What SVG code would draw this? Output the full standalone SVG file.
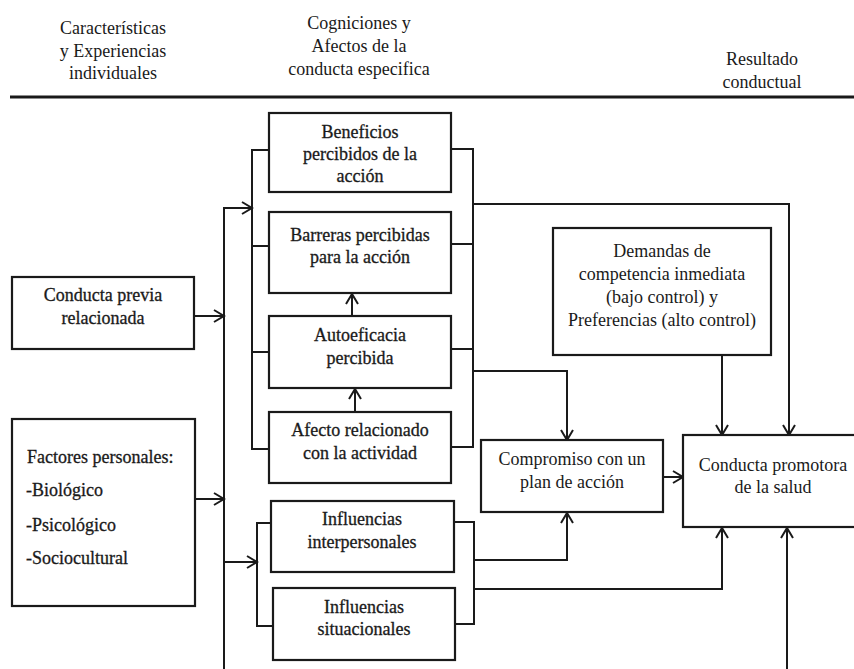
<svg xmlns="http://www.w3.org/2000/svg" width="854" height="669" viewBox="0 0 854 669">
<defs>
<style>
text{font-family:"Liberation Serif","Times New Roman",Times,serif;font-size:18px;fill:#1a1a1a;text-anchor:middle}
.b{stroke:#1a1a1a;stroke-width:0.3}
.l{text-anchor:start}
.box{fill:#fff;stroke:#1a1a1a;stroke-width:2.2}
.c{fill:none;stroke:#1a1a1a;stroke-width:2}
.a{marker-end:url(#arr)}
</style>
<marker id="arr" markerUnits="userSpaceOnUse" markerWidth="14" markerHeight="16" viewBox="0 0 14 16" refX="12" refY="8" orient="auto">
<path d="M2,2 L12,8 L2,14" fill="none" stroke="#1a1a1a" stroke-width="2"/>
</marker>
</defs>
<rect width="854" height="669" fill="#fff"/>

<g id="header">
<text x="113" y="34">Características</text>
<text x="113" y="57">y Experiencias</text>
<text x="113" y="79">individuales</text>
<text x="359" y="29">Cogniciones y</text>
<text x="359" y="52">Afectos de la</text>
<text x="359" y="75">conducta especifica</text>
<text x="762" y="65">Resultado</text>
<text x="762" y="88">conductual</text>
<line x1="10" y1="97" x2="854" y2="97" stroke="#1a1a1a" stroke-width="3"/>
</g>

<g id="connectors">
<polyline class="c a" points="224,669 224,208 252,208"/>
<line class="c a" x1="194" y1="316" x2="224" y2="316" stroke-width="3"/>
<line class="c a" x1="195" y1="499" x2="224" y2="499"/>
<line class="c a" x1="224" y1="562" x2="257" y2="562"/>
<polyline class="c" points="269,150 252,150 252,449 269,449"/>
<line class="c" x1="252" y1="246" x2="269" y2="246"/>
<line class="c" x1="252" y1="352" x2="269" y2="352"/>
<polyline class="c" points="451,149 473,149 473,447 451,447"/>
<line class="c" x1="451" y1="244" x2="473" y2="244"/>
<line class="c" x1="451" y1="349" x2="473" y2="349"/>
<polyline class="c a" points="473,204 789,204 789,435"/>
<polyline class="c a" points="473,371 567,371 567,440"/>
<line class="c a" x1="722" y1="356" x2="722" y2="435"/>
<line class="c a" x1="663" y1="477" x2="683" y2="477"/>
<line class="c a" x1="352" y1="316" x2="352" y2="294"/>
<line class="c a" x1="355" y1="412" x2="355" y2="389"/>
<polyline class="c" points="271,523 257,523 257,626 273,626"/>
<polyline class="c" points="454,522 474,522 474,624 455,624"/>
<polyline class="c a" points="474,560 567,560 567,513"/>
<polyline class="c a" points="474,589 722,589 722,528" stroke-width="3"/>
<line class="c a" x1="787" y1="669" x2="787" y2="528"/>
</g>

<g id="beneficios">
<rect class="box" x="269" y="113" width="182" height="79"/>
<text class="b" x="360" y="138">Beneficios</text>
<text class="b" x="360" y="160">percibidos de la</text>
<text class="b" x="360" y="182">acción</text>
</g>
<g id="barreras">
<rect class="box" x="269" y="212" width="182" height="81"/>
<text class="b" x="360" y="241">Barreras percibidas</text>
<text class="b" x="360" y="263">para la acción</text>
</g>
<g id="autoeficacia">
<rect class="box" x="269" y="316" width="182" height="72"/>
<text class="b" x="360" y="341">Autoeficacia</text>
<text class="b" x="360" y="364">percibida</text>
</g>
<g id="afecto">
<rect class="box" x="269" y="412" width="182" height="71"/>
<text class="b" x="360" y="436">Afecto relacionado</text>
<text class="b" x="360" y="459">con la actividad</text>
</g>
<g id="interpersonales">
<rect class="box" x="271" y="501" width="183" height="71"/>
<text class="b" x="362" y="525">Influencias</text>
<text class="b" x="362" y="548">interpersonales</text>
</g>
<g id="situacionales">
<rect class="box" x="273" y="588" width="182" height="72"/>
<text class="b" x="364" y="613">Influencias</text>
<text class="b" x="364" y="635">situacionales</text>
</g>
<g id="demandas">
<rect class="box" x="553" y="228" width="218" height="127"/>
<text x="662" y="257">Demandas de</text>
<text x="662" y="280">competencia inmediata</text>
<text x="662" y="303">(bajo control) y</text>
<text x="662" y="326">Preferencias (alto control)</text>
</g>
<g id="compromiso">
<rect class="box" x="481" y="440" width="182" height="72"/>
<text x="572" y="465">Compromiso con un</text>
<text x="572" y="488">plan de acción</text>
</g>
<g id="conducta-promotora">
<rect class="box" x="683" y="435" width="182" height="92"/>
<text x="773" y="471">Conducta promotora</text>
<text x="773" y="493">de la salud</text>
</g>
<g id="conducta-previa">
<rect class="box" x="12" y="277" width="182" height="72"/>
<text class="b" x="103" y="301">Conducta previa</text>
<text class="b" x="103" y="324">relacionada</text>
</g>
<g id="factores">
<rect class="box" x="12" y="419" width="183" height="187"/>
<text class="l b" x="27" y="463">Factores personales:</text>
<text class="l b" x="26" y="496">-Biológico</text>
<text class="l b" x="26" y="531">-Psicológico</text>
<text class="l b" x="26" y="564">-Sociocultural</text>
</g>
</svg>
